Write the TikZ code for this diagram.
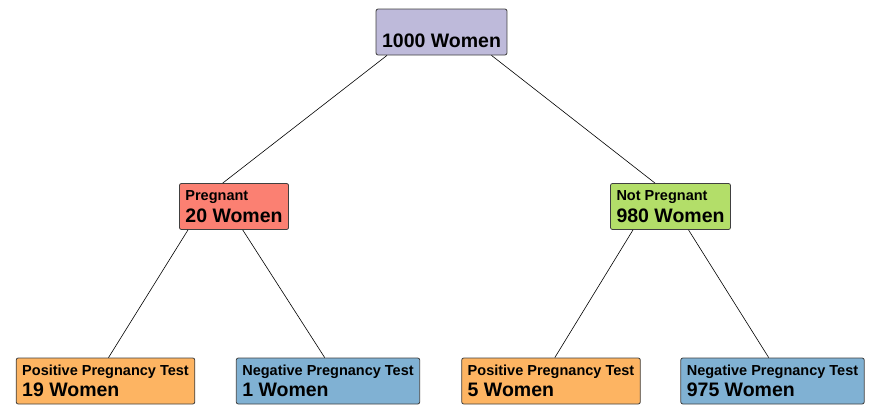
\documentclass[tikz,border=0pt]{standalone}
\usepackage{fontspec}
\setmainfont{Liberation Sans}
\newcommand{\smalltxt}{\fontsize{14.5}{17}\selectfont}
\newcommand{\bigtxt}{\fontsize{19.5}{21.5}\selectfont}
\tikzset{
    treebox/.style={draw=black!75, line width=0.8pt, rounded corners=2pt,
        align=left, inner xsep=6pt, inner ysep=0pt, minimum height=46pt,
        font=\bigtxt\bfseries},
    treeedge/.style={draw=black, line width=0.6pt}
}

\begin{document}
\begin{tikzpicture}[x=1pt,y=-1pt]
    \definecolor{set_purple}{HTML}{BEBADA}
    \definecolor{set_red}{HTML}{FB8072}
    \definecolor{set_green}{HTML}{B3DE69}
    \definecolor{set_orange}{HTML}{FDB462}
    \definecolor{set_blue}{HTML}{80B1D3}
    \useasboundingbox (0,0) rectangle (877,415);
    %\draw[help lines] (0,0) grid[step=50] (877,415);

    \node[treebox, fill=set_purple] (women) at (441.5,32) {{\smalltxt\phantom{P}}\\1000 Women};

    \node[treebox, fill=set_red] (pregnant) at (234,206.5) {{\smalltxt Pregnant}\\20 Women};
    \node[treebox, fill=set_green] (notpregnant) at (670.5,206.5) {{\smalltxt Not Pregnant}\\980 Women};

    \node[treebox, fill=set_orange] (pospreg) at (105.5,381) {{\smalltxt Positive Pregnancy Test}\\19 Women};
    \node[treebox, fill=set_blue] (negpreg) at (328,381) {{\smalltxt Negative Pregnancy Test}\\1 Women};
    \node[treebox, fill=set_orange] (posnot) at (551,381) {{\smalltxt Positive Pregnancy Test}\\5 Women};
    \node[treebox, fill=set_blue] (negnot) at (772.5,381) {{\smalltxt Negative Pregnancy Test}\\975 Women};

    % edges
    \draw[treeedge] ([xshift=-54.5pt]women.south) -- ([xshift=-11.3pt]pregnant.north);
    \draw[treeedge] ([xshift=50pt]women.south) -- ([xshift=-15.5pt]notpregnant.north);
    \draw[treeedge] ([xshift=-46pt]pregnant.south) -- ([xshift=3pt]pospreg.north);
    \draw[treeedge] ([xshift=8.7pt]pregnant.south) -- ([xshift=-3.3pt]negpreg.north);
    \draw[treeedge] ([xshift=-37.5pt]notpregnant.south) -- ([xshift=3.8pt]posnot.north);
    \draw[treeedge] ([xshift=18pt]notpregnant.south) -- ([xshift=-3.8pt]negnot.north);
\end{tikzpicture}
\end{document}
